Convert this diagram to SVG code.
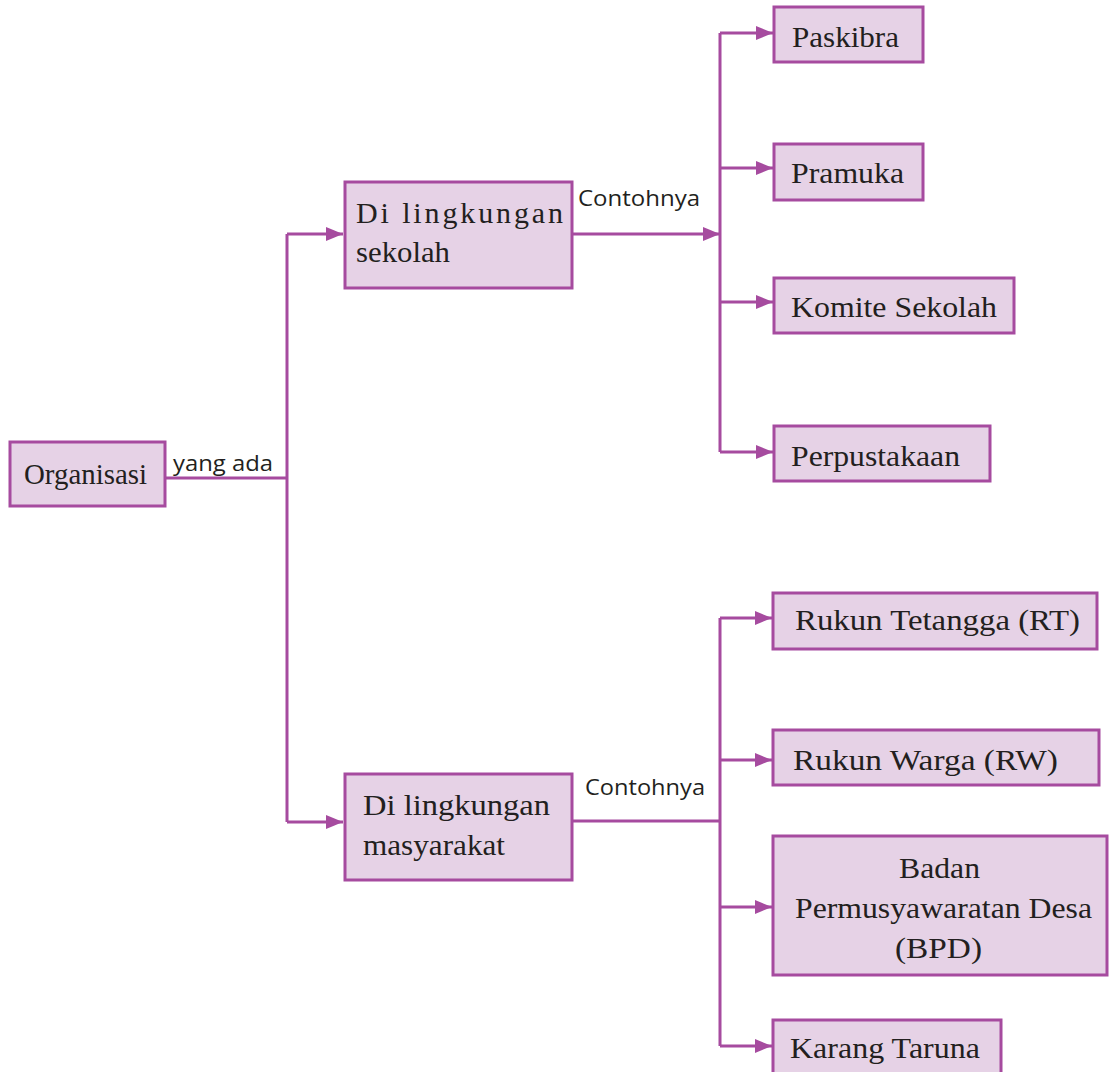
<svg xmlns="http://www.w3.org/2000/svg" width="1113" height="1072" viewBox="0 0 1113 1072">
<defs>
<marker id="arr" markerUnits="userSpaceOnUse" markerWidth="18" markerHeight="14" refX="17" refY="7" orient="auto">
<path d="M0,0 L17,7 L0,14 Z" fill="#a64b9f"/>
</marker>
<style>
.box{fill:#e6d2e6;stroke:#a64b9f;stroke-width:3}
.t{font-family:"Liberation Serif",serif;font-size:30px;fill:#231f20}
.lb{font-family:"Open Sans","Liberation Sans",sans-serif;font-size:21px;fill:#231f20}
.c{fill:none;stroke:#a64b9f;stroke-width:3}
</style>
</defs>
<rect width="1113" height="1072" fill="#ffffff"/>
<g id="connectors">
<path class="c" d="M166,478 H287 M287,234 V822"/>
<path class="c" d="M287,234 H343" marker-end="url(#arr)"/>
<path class="c" d="M287,822 H343" marker-end="url(#arr)"/>
<path class="c" d="M572,234 H720" marker-end="url(#arr)"/>
<path class="c" d="M720,33 V452"/>
<path class="c" d="M720,33 H773" marker-end="url(#arr)"/>
<path class="c" d="M720,168 H773" marker-end="url(#arr)"/>
<path class="c" d="M720,302 H773" marker-end="url(#arr)"/>
<path class="c" d="M720,452 H773" marker-end="url(#arr)"/>
<path class="c" d="M572,821 H720 M720,618 V1046"/>
<path class="c" d="M720,618 H772" marker-end="url(#arr)"/>
<path class="c" d="M720,760 H772" marker-end="url(#arr)"/>
<path class="c" d="M720,907 H772" marker-end="url(#arr)"/>
<path class="c" d="M720,1046 H772" marker-end="url(#arr)"/>
<text class="lb" x="173" y="471" textLength="100" lengthAdjust="spacingAndGlyphs">yang ada</text>
<text class="lb" x="578" y="206" textLength="122" lengthAdjust="spacingAndGlyphs">Contohnya</text>
<text class="lb" x="585" y="795" textLength="120" lengthAdjust="spacingAndGlyphs">Contohnya</text>
</g>
<g id="organisasi">
<rect class="box" x="10" y="442" width="155" height="64"/>
<text class="t" x="24" y="484" textLength="123" lengthAdjust="spacingAndGlyphs">Organisasi</text>
</g>
<g id="sekolah">
<rect class="box" x="345" y="182" width="227" height="106"/>
<text class="t" x="356" y="223" textLength="207" lengthAdjust="spacing">Di lingkungan</text>
<text class="t" x="356" y="262" textLength="94" lengthAdjust="spacingAndGlyphs">sekolah</text>
</g>
<g id="masyarakat">
<rect class="box" x="345" y="774" width="227" height="106"/>
<text class="t" x="363" y="815" textLength="187" lengthAdjust="spacingAndGlyphs">Di lingkungan</text>
<text class="t" x="363" y="855" textLength="142" lengthAdjust="spacingAndGlyphs">masyarakat</text>
</g>
<g id="paskibra">
<rect class="box" x="774" y="7" width="149" height="55"/>
<text class="t" x="792" y="47" textLength="107" lengthAdjust="spacingAndGlyphs">Paskibra</text>
</g>
<g id="pramuka">
<rect class="box" x="774" y="144" width="149" height="56"/>
<text class="t" x="791" y="183" textLength="113" lengthAdjust="spacingAndGlyphs">Pramuka</text>
</g>
<g id="komite">
<rect class="box" x="774" y="278" width="240" height="55"/>
<text class="t" x="791" y="317" textLength="206" lengthAdjust="spacingAndGlyphs">Komite Sekolah</text>
</g>
<g id="perpustakaan">
<rect class="box" x="774" y="426" width="216" height="55"/>
<text class="t" x="791" y="466" textLength="169" lengthAdjust="spacingAndGlyphs">Perpustakaan</text>
</g>
<g id="rt">
<rect class="box" x="773" y="593" width="324" height="56"/>
<text class="t" x="795" y="630" textLength="285" lengthAdjust="spacingAndGlyphs">Rukun Tetangga (RT)</text>
</g>
<g id="rw">
<rect class="box" x="773" y="730" width="326" height="55"/>
<text class="t" x="793" y="770" textLength="265" lengthAdjust="spacingAndGlyphs">Rukun Warga (RW)</text>
</g>
<g id="bpd">
<rect class="box" x="773" y="836" width="334" height="139"/>
<text class="t" x="899" y="878" textLength="81" lengthAdjust="spacingAndGlyphs">Badan</text>
<text class="t" x="795" y="918" textLength="297" lengthAdjust="spacingAndGlyphs">Permusyawaratan Desa</text>
<text class="t" x="895" y="958" textLength="87" lengthAdjust="spacingAndGlyphs">(BPD)</text>
</g>
<g id="karang">
<rect class="box" x="773" y="1020" width="228" height="60"/>
<text class="t" x="790" y="1058" textLength="190" lengthAdjust="spacingAndGlyphs">Karang Taruna</text>
</g>
</svg>
